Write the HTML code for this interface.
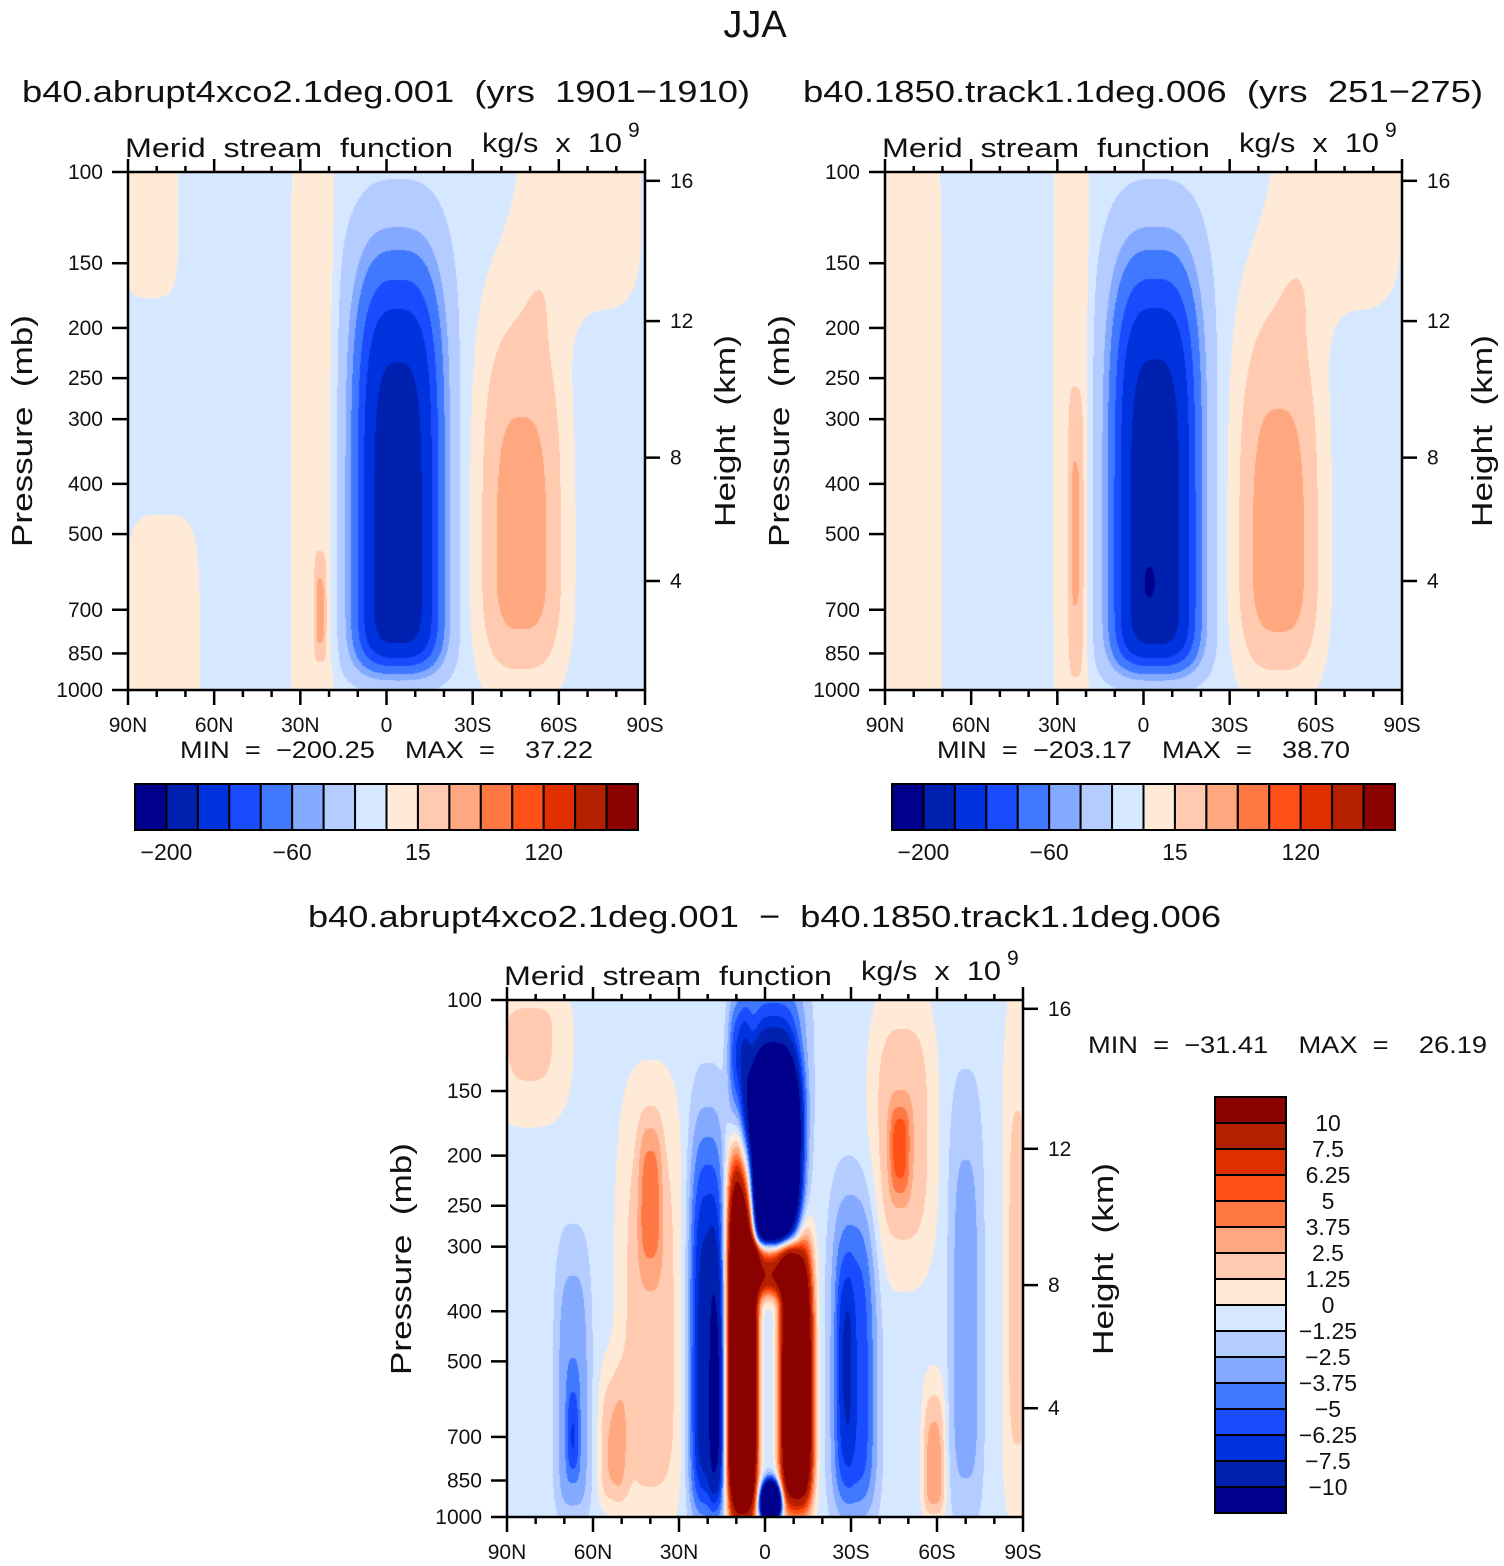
<!DOCTYPE html>
<html><head><meta charset="utf-8">
<style>
html,body{margin:0;padding:0;background:#fff;}
#root{position:relative;width:1504px;height:1566px;overflow:hidden;background:#fff;}
canvas{position:absolute;}
svg{position:absolute;left:0;top:0;}
text{font-family:"Liberation Sans",sans-serif;fill:#111;white-space:pre;}
</style></head>
<body>
<div id="root">
<canvas id="c1" width="517" height="518" style="left:128px;top:172px"></canvas>
<canvas id="c2" width="517" height="518" style="left:885px;top:172px"></canvas>
<canvas id="c3" width="516" height="517" style="left:507px;top:1000px"></canvas>
<svg id="ov" width="1504" height="1566"></svg>
</div>
<script>
// ---------- data ----------
const colors = ["#00008C","#0020B0","#0033DD","#1A4CFF","#4078FF","#84AAFF","#B4CCFF","#D6E8FF","#FFEAD8","#FFCAB0","#FFA880","#FF7844","#FF5018","#E03000","#B42000","#8B0000"];
const levelsAbs = [-200,-160,-120,-90,-60,-40,-15,0,15,30,60,90,120,160,200];
const levelsDiff = [-10,-7.5,-6.25,-5,-3.75,-2.5,-1.25,0,1.25,2.5,3.75,5,6.25,7.5,10];
const levelLabelsAbs = ["\u2212200","\u221260","15","120"];
const levelLabelIdx = [0,4,8,12];
const levelLabelsDiff = ["10","7.5","6.25","5","3.75","2.5","1.25","0","\u22121.25","\u22122.5","\u22123.75","\u22125","\u22126.25","\u22127.5","\u221210"];
const pressureTicks = [100,150,200,250,300,400,500,700,850,1000];
const latTicks = [90,60,30,0,-30,-60,-90];
const latLabels = ["90N","60N","30N","0","30S","60S","90S"];
const heightTicks = [16,12,8,4];
const heightTickPressure = [104,194,356,616];
// field features: [lat, latHalfWidth, pCenter, pTopEdge, pBottomEdge, amplitude, expLat, expP]
const bg1 = -8;
const blobs1 = [
 [-4,15.3,620,150,915,-178,3,5],
 [-47,15.7,562,177,975,45,3,3],
 [-68,24,110,80,200,14,4,4],
 [25.6,8.5,400,60,1500,14,6,6],
 [23,2.2,720,540,880,28,4,4],
 [78,15,800,420,1500,14,4,4],
 [82,11,120,80,185,14,4,4]
];
const bg2 = -8;
const blobs2 = [
 [-4,15.3,620,150,915,-180,3,5],
 [-2,2.2,620,570,670,-25,2,2],
 [-47,15.5,560,175,975,46,3,3],
 [-68,25,110,80,200,14,4,4],
 [25,7,400,60,1500,14,6,6],
 [23.5,2.8,500,260,950,26,4,4],
 [81,12,500,60,1500,14,6,6]
];
const bg3 = -0.6;
const blobs3 = [
 [-3,8.5,210,135,300,-32,3,3],
 [-3,11,120,90,200,-5,3,3],
 [9,4,150,100,230,-6,3,3],
 [8,5,600,190,1000,26,3,4],
 [-11,5.5,620,300,950,22,3,4],
 [-2,9,320,290,370,14,3,3],
 [-2,2.8,940,870,1000,-55,2,2],
 [20,6.5,600,180,1000,-8,3,4],
 [17,2.5,650,330,950,-3.5,3,3],
 [-31,8,600,240,1000,-5.5,3,4],
 [-28,3,480,330,800,-2,3,3],
 [40,11,500,150,1000,2.8,3,4],
 [40,4,240,170,330,3,3,3],
 [53,5,780,520,950,3,3,3],
 [67,6,700,300,1000,-3.2,3,4],
 [67,2,700,560,820,-2.5,3,3],
 [-48,11,180,100,330,3,3,3],
 [-47,3.5,190,160,240,3.5,3,3],
 [-70,6,500,150,1000,-2.6,3,4],
 [-59,4,850,560,1000,4,3,3],
 [-88,5,400,100,1000,2.2,3,4],
 [82,14,115,95,170,2.2,3,3]
];

// ---------- axes ----------
const panels = [
 {x0:128,y0:172,w:517,h:518},
 {x0:885,y0:172,w:517,h:518},
 {x0:507,y0:1000,w:516,h:517}
];
function xOf(P,lat){return P.x0+(90-lat)/180*P.w;}
function yOf(P,p){return P.y0+Math.log10(p/100)*P.h;}

function drawField(id,P,blobs,bg,levels){
 const cv=document.getElementById(id);const ctx=cv.getContext('2d');
 const W=cv.width,H=cv.height;const img=ctx.createImageData(W,H);
 const rgb=colors.map(c=>[parseInt(c.substr(1,2),16),parseInt(c.substr(3,2),16),parseInt(c.substr(5,2),16)]);
 const bs=blobs.map(b=>{const yc=yOf(P,b[2])-P.y0;return {lat:b[0],lw:b[1],yc:yc,ht:Math.max(1,yc-(yOf(P,b[3])-P.y0)),hb:Math.max(1,(yOf(P,b[4])-P.y0)-yc),a:b[5],ex:b[6],ey:b[7]};});
 for(let j=0;j<H;j++){for(let i=0;i<W;i++){
  const lat=90-(i+0.5)/W*180;let v=bg;
  for(const b of bs){const u=Math.abs(lat-b.lat)/b.lw;const dy=j-b.yc;const w=Math.abs(dy)/(dy<0?b.ht:b.hb);
   const e=Math.pow(u,b.ex)+Math.pow(w,b.ey);if(e<12)v+=b.a*Math.exp(-e);}
  let k=0;while(k<levels.length&&v>=levels[k])k++;
  const o=(j*W+i)*4;img.data[o]=rgb[k][0];img.data[o+1]=rgb[k][1];img.data[o+2]=rgb[k][2];img.data[o+3]=255;}}
 ctx.putImageData(img,0,0);
}
drawField('c1',panels[0],blobs1,bg1,levelsAbs);
drawField('c2',panels[1],blobs2,bg2,levelsAbs);
drawField('c3',panels[2],blobs3,bg3,levelsDiff);

// ---------- svg overlay ----------
const NS="http://www.w3.org/2000/svg";const ov=document.getElementById('ov');
function el(tag,attrs,parent){const e=document.createElementNS(NS,tag);for(const k in attrs)e.setAttribute(k,attrs[k]);(parent||ov).appendChild(e);return e;}
function txt(s,x,y,size,anchor,extra){const t=el('text',Object.assign({x:x,y:y,'font-size':size,'text-anchor':anchor||'start'},extra||{}));t.textContent=s;return t;}

let t;
t=txt("JJA",755,37,38,'middle');



function drawPanel(P,idx,title,titleX,titleW,minmax,mmX,mmW){
 const g=el('g',{});
 
 
 if(title){const tt=txt(title,titleX,102,31,'start',{textLength:titleW,lengthAdjust:'spacingAndGlyphs'});
  
  }
 const ty=P.y0-15;
 const m=txt("Merid  stream  function",P.x0-3,ty,27,'start',{textLength:328,lengthAdjust:'spacingAndGlyphs'});
 
 
 const u=txt("kg/s  x  10",P.x0+354,ty-5,27,'start',{textLength:140,lengthAdjust:'spacingAndGlyphs'});
 
 
 txt("9",P.x0+500,ty-20,21,'start');
 // frame
 const fr=el('rect',{x:P.x0,y:P.y0,width:P.w,height:P.h,fill:'none',stroke:'#000','stroke-width':2.5});
 
 
 // pressure ticks
 pressureTicks.forEach(p=>{const y=yOf(P,p);el('line',{x1:P.x0-16,y1:y,x2:P.x0,y2:y,stroke:'#000','stroke-width':2.5});
  const l=txt(String(p),P.x0-25,y+7,21,'end');
  
  });
 // lat ticks
 for(let lat=90;lat>=-90;lat-=10){const x=xOf(P,lat);const major=(lat%30===0);
  el('line',{x1:x,y1:P.y0+P.h,x2:x,y2:P.y0+P.h+(major?15:7),stroke:'#000','stroke-width':2.5});
  el('line',{x1:x,y1:P.y0,x2:x,y2:P.y0-(major?13:6),stroke:'#000','stroke-width':2.5});}
 latTicks.forEach((lat,i)=>{const l=txt(latLabels[i],xOf(P,lat),P.y0+P.h+42,21,'middle');
  
  });
 // height ticks
 heightTicks.forEach((h,i)=>{const y=yOf(P,heightTickPressure[i]);el('line',{x1:P.x0+P.w,y1:y,x2:P.x0+P.w+15,y2:y,stroke:'#000','stroke-width':2.5});
  const l=txt(String(h),P.x0+P.w+25,y+7,21,'start');
  
  });
 const cy=P.y0+259;
 const pl=txt("Pressure  (mb)",0,0,29,'middle',{transform:`translate(${P.x0-96},${cy}) rotate(-90)`,textLength:232,lengthAdjust:'spacingAndGlyphs'});
 
 
 const hl=txt("Height  (km)",0,0,29,'middle',{transform:`translate(${P.x0+P.w+90},${cy}) rotate(-90)`,textLength:192,lengthAdjust:'spacingAndGlyphs'});
 
 
 const mm=txt(minmax,mmX.x,mmX.y,24,'start',{textLength:mmW,lengthAdjust:'spacingAndGlyphs'});
 
 
}
drawPanel(panels[0],1,"b40.abrupt4xco2.1deg.001  (yrs  1901\u22121910)",22,728,"MIN  =  \u2212200.25    MAX  =    37.22",{x:180,y:758},413);
drawPanel(panels[1],2,"b40.1850.track1.1deg.006  (yrs  251\u2212275)",803,680,"MIN  =  \u2212203.17    MAX  =    38.70",{x:937,y:758},413);
drawPanel(panels[2],3,null,0,0,"MIN  =  \u221231.41    MAX  =    26.19",{x:1088,y:1053},399);
t=txt("b40.abrupt4xco2.1deg.001  \u2212  b40.1850.track1.1deg.006",308,927,31,'start',{textLength:913,lengthAdjust:'spacingAndGlyphs'});



// horizontal colorbars
function hbar(x0,idx){const y0=784,w=503,h=46,bw=w/16;
 colors.forEach((c,i)=>{const r=el('rect',{x:x0+i*bw,y:y0,width:bw,height:h,fill:c,stroke:'#000','stroke-width':2});
  
  });
 levelLabelIdx.forEach((k,i)=>{const l=txt(levelLabelsAbs[i],x0+(k+1)*bw,860,23,'middle');
  
  });
}
hbar(135,1);hbar(892,2);
// vertical colorbar
(function(){const x0=1215,y0=1097,w=71,h=416,bh=h/16;
 colors.slice().reverse().forEach((c,i)=>{const r=el('rect',{x:x0,y:y0+i*bh,width:w,height:bh,fill:c,stroke:'#000','stroke-width':2});
  
  });
 levelLabelsDiff.forEach((s,i)=>{const l=txt(s,1328,y0+(i+1)*bh+8,23,'middle');
  
  });
})();
</script>
</body></html>
